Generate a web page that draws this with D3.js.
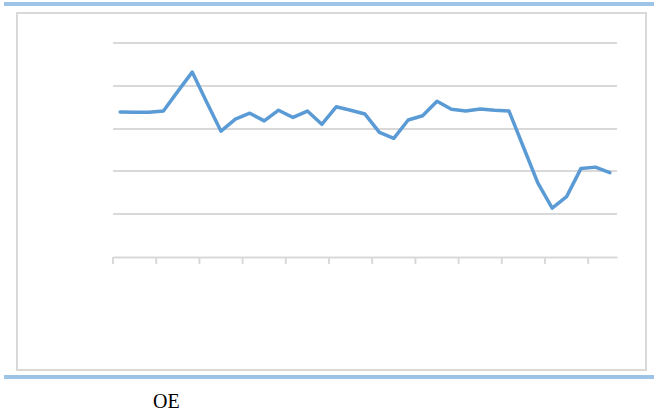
<!DOCTYPE html>
<html>
<head>
<meta charset="utf-8">
<title>OE</title>
<style>
  body { margin: 0; background: #fff; }
  .grid line { stroke: #d9d9d9; stroke-width: 2; shape-rendering: crispEdges; }
  .axis path, .axis line { stroke: #d9d9d9; stroke-width: 2; fill: none; }
</style>
</head>
<body>
<script src="https://cdn.jsdelivr.net/npm/d3@7/dist/d3.min.js"></script>
<script>
var width = 662, height = 416;

// 35 categories, no labels shown on the axis
var categories = d3.range(1, 36);
var oeValues = [3.39, 3.38, 3.38, 3.41, 3.87, 4.32, 3.62, 2.94, 3.22, 3.36,
                3.18, 3.43, 3.26, 3.41, 3.10, 3.51, 3.43, 3.34, 2.91, 2.77,
                3.20, 3.30, 3.64, 3.45, 3.41, 3.46, 3.43, 3.41, 2.57, 1.73,
                1.14, 1.41, 2.07, 2.10, 1.97];
var gridTicks = [0, 1, 2, 3, 4, 5];
var label = "OE";

var svg = d3.select("body").append("svg")
  .attr("width", width).attr("height", height);

// blue rules above and below the chart box
svg.append("rect").attr("x", 4).attr("y", 2).attr("width", 650).attr("height", 4).attr("fill", "#9dc3e6");
svg.append("rect").attr("x", 4).attr("y", 375).attr("width", 650).attr("height", 4).attr("fill", "#9dc3e6");

// chart frame
svg.append("rect").attr("x", 17).attr("y", 13).attr("width", 629).attr("height", 357)
  .attr("fill", "none").attr("stroke", "#d9d9d9").attr("stroke-width", 2);

var plot = {left: 113, right: 617, top: 43, bottom: 257};

var x = d3.scaleBand().domain(categories).range([plot.left, plot.right]);
var y = d3.scaleLinear().domain([0, 5]).range([plot.bottom, plot.top]);

svg.append("g").attr("class", "grid")
  .selectAll("line").data(gridTicks.slice(1)).enter().append("line")
  .attr("x1", plot.left).attr("x2", plot.right)
  .attr("y1", function(d) { return Math.round(y(d)); })
  .attr("y2", function(d) { return Math.round(y(d)); });

// category axis, tick mark every 3 categories
var xAxis = d3.axisBottom(x)
  .tickValues(categories.filter(function(d, i) { return i % 3 === 0; }))
  .tickSize(7).tickSizeOuter(0).tickFormat("");
var gx = svg.append("g").attr("class", "axis")
  .attr("transform", "translate(0," + plot.bottom + ")")
  .call(xAxis);
gx.selectAll(".tick").attr("transform", function(d) {
  return "translate(" + x(d) + ",0)";
});

var line = d3.line()
  .x(function(d, i) { return x(categories[i]) + x.bandwidth() / 2; })
  .y(function(d) { return y(d); });

svg.append("path").datum(oeValues)
  .attr("d", line)
  .attr("fill", "none")
  .attr("stroke", "#5b9bd5")
  .attr("stroke-width", 3.5)
  .attr("stroke-linejoin", "round")
  .attr("stroke-linecap", "round");

svg.append("text")
  .attr("x", 153).attr("y", 408)
  .attr("font-family", "'Liberation Serif', 'Times New Roman', serif")
  .attr("font-size", 20)
  .attr("fill", "#000")
  .text(label);
</script>
</body>
</html>
